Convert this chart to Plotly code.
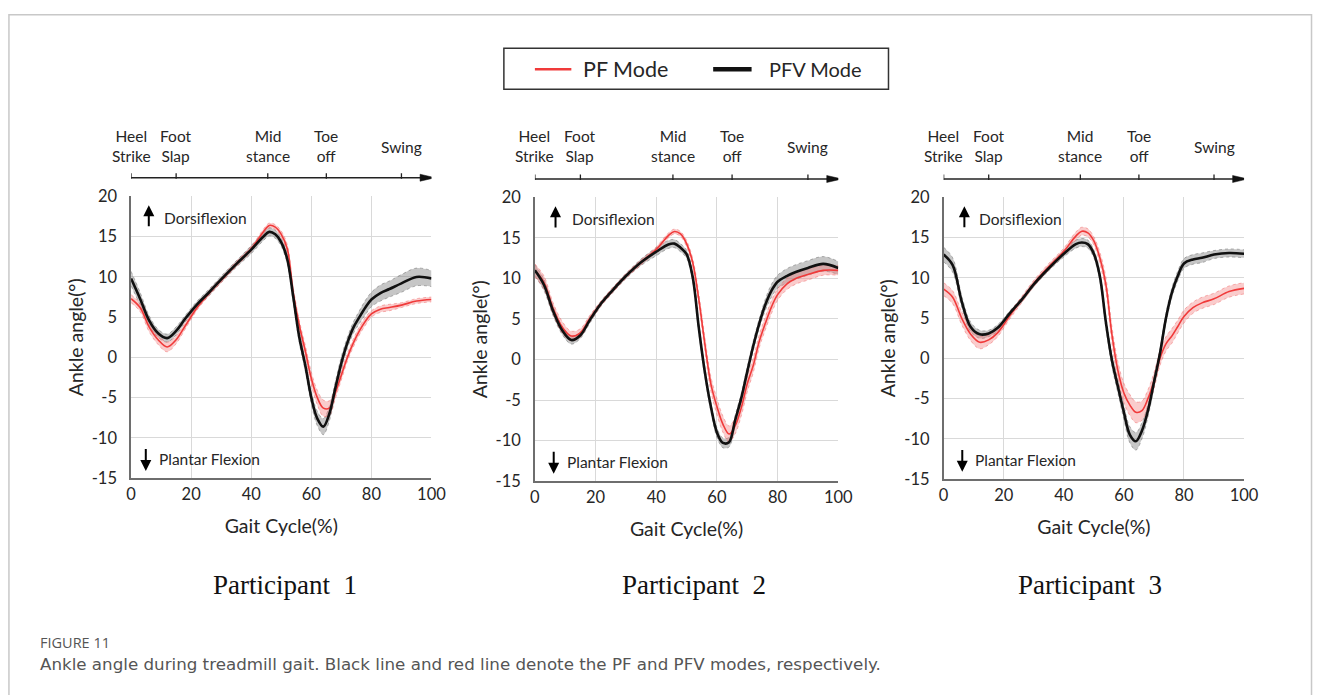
import plotly.graph_objects as go

# ---------------- data ----------------
gait = [0, 3, 6, 9, 12, 15, 18, 22, 26, 30, 35, 40, 44, 46, 48, 50, 52, 54, 56, 58,
        60, 62, 64, 66, 68, 70, 72, 74, 76, 78, 80, 83, 86, 90, 95, 100]

phase_pos = [0, 15, 45.5, 65, 90]
phase_labels = ["Heel<br>Strike", "Foot<br>Slap", "Mid<br>stance", "Toe<br>off", "Swing"]
x_ticks = [0, 20, 40, 60, 80, 100]
y_ticks = [-15, -10, -5, 0, 5, 10, 15, 20]
y_tick_text = ["-15", "-10", "-5", "0", "5", "10", "15", "20"]
participants = ["Participant  1", "Participant  2", "Participant  3"]
mode_names = ["PF Mode", "PFV Mode"]

# Participant 1
p1_pf = [7.3, 6.2, 3.8, 2.2, 1.3, 2.2, 3.9, 6.2, 8.0, 9.6, 11.6, 13.5, 15.6, 16.4, 16.2, 15.3,
         13.5, 8.0, 4.0, 0.8, -2.6, -5.0, -6.3, -6.3, -4.4, -2.2, 0.0, 1.8, 3.3, 4.5, 5.4,
         6.0, 6.2, 6.5, 7.0, 7.2]
p1_pf_sd = [0.5, 0.5, 0.6, 0.6, 0.6, 0.5, 0.4, 0.3, 0.3, 0.3, 0.3, 0.3, 0.3, 0.3, 0.3, 0.4,
            0.5, 0.6, 0.6, 0.7, 0.8, 0.9, 1.0, 0.9, 0.7, 0.6, 0.5, 0.5, 0.5, 0.5, 0.4, 0.4,
            0.4, 0.3, 0.3, 0.3]
p1_pfv = [9.8, 7.3, 4.6, 3.0, 2.4, 3.3, 4.8, 6.6, 8.1, 9.7, 11.6, 13.4, 15.0, 15.6, 15.3, 14.3,
          12.2, 7.5, 2.5, -1.0, -5.0, -7.6, -8.6, -7.0, -3.8, -0.7, 1.8, 3.7, 5.0, 6.2, 7.2,
          8.0, 8.5, 9.2, 10.0, 9.8]
p1_pfv_sd = [0.9, 0.8, 0.6, 0.5, 0.5, 0.5, 0.4, 0.4, 0.4, 0.4, 0.4, 0.5, 0.5, 0.5, 0.5, 0.5,
             0.6, 0.7, 0.7, 0.7, 0.8, 0.9, 1.0, 0.9, 0.8, 0.8, 0.7, 0.7, 0.8, 0.9, 0.9, 1.0,
             1.0, 1.1, 1.1, 1.0]

# Participant 2
p2_pf = [11.0, 9.5, 6.3, 4.0, 2.9, 3.3, 5.0, 7.0, 8.7, 10.3, 12.0, 13.6, 15.3, 15.8, 15.5, 14.3,
         12.0, 7.5, 2.0, -3.0, -5.8, -8.0, -9.2, -8.2, -6.0, -3.0, -0.7, 2.3, 4.5, 6.5, 8.0,
         9.3, 10.0, 10.5, 11.0, 11.0]
p2_pf_sd = [0.8, 0.8, 0.7, 0.7, 0.6, 0.5, 0.4, 0.3, 0.3, 0.3, 0.3, 0.3, 0.3, 0.3, 0.3, 0.4,
            0.5, 0.7, 0.8, 0.9, 1.0, 1.0, 1.0, 1.0, 1.0, 1.0, 0.9, 0.8, 0.8, 0.8, 0.7, 0.7,
            0.7, 0.7, 0.6, 0.6]
p2_pfv = [11.0, 9.2, 6.0, 3.6, 2.4, 3.0, 4.8, 7.0, 8.7, 10.3, 12.0, 13.3, 14.2, 14.3, 13.8, 13.0,
          10.2, 4.0, -1.5, -5.8, -9.0, -10.3, -10.2, -7.5, -4.8, -1.5, 1.7, 4.5, 6.8, 8.5, 9.6,
          10.3, 10.8, 11.3, 11.8, 11.3]
p2_pfv_sd = [0.7, 0.7, 0.6, 0.5, 0.5, 0.4, 0.4, 0.3, 0.3, 0.3, 0.4, 0.5, 0.5, 0.5, 0.5, 0.5,
             0.6, 0.6, 0.6, 0.6, 0.6, 0.6, 0.6, 0.6, 0.6, 0.6, 0.6, 0.6, 0.7, 0.8, 0.8, 0.9,
             0.9, 0.9, 0.9, 0.8]

# Participant 3
p3_pf = [8.6, 7.6, 5.0, 3.0, 2.0, 2.3, 3.2, 5.3, 7.3, 9.3, 11.4, 13.3, 15.2, 15.8, 15.6, 14.6,
         12.5, 9.2, 3.0, -1.5, -4.3, -5.8, -6.7, -6.5, -5.0, -2.8, 0.0, 1.8, 2.8, 4.0, 5.2,
         6.3, 6.9, 7.4, 8.3, 8.7]
p3_pf_sd = [0.8, 0.8, 0.8, 0.8, 0.8, 0.6, 0.5, 0.4, 0.4, 0.4, 0.4, 0.4, 0.5, 0.5, 0.5, 0.5,
            0.7, 0.9, 1.0, 1.1, 1.2, 1.3, 1.3, 1.2, 1.1, 1.0, 0.9, 0.9, 0.9, 0.8, 0.8, 0.7,
            0.7, 0.7, 0.7, 0.7]
p3_pfv = [12.9, 11.6, 7.1, 3.9, 3.0, 3.1, 3.8, 5.6, 7.3, 9.2, 11.2, 13.0, 14.2, 14.4, 14.2, 13.0,
          10.2, 4.5, -0.2, -3.5, -6.7, -9.5, -10.3, -9.0, -6.5, -3.0, 0.6, 5.0, 8.2, 10.3, 11.8,
          12.3, 12.5, 12.9, 13.1, 13.0]
p3_pfv_sd = [0.9, 0.9, 0.7, 0.6, 0.5, 0.4, 0.4, 0.3, 0.3, 0.3, 0.3, 0.4, 0.5, 0.5, 0.5, 0.5,
             0.6, 0.7, 0.8, 0.8, 0.9, 1.0, 1.1, 1.0, 0.8, 0.7, 0.6, 0.6, 0.6, 0.6, 0.6, 0.6,
             0.6, 0.5, 0.5, 0.5]

series = [
    (p1_pf, p1_pf_sd, p1_pfv, p1_pfv_sd),
    (p2_pf, p2_pf_sd, p2_pfv, p2_pfv_sd),
    (p3_pf, p3_pf_sd, p3_pfv, p3_pfv_sd),
]

# ---------------- layout geometry (pixels) ----------------
W, H = 1328, 695
FONT = "Lato"
TXT = "#262626"
panels = [
    dict(x0=128, x1=433, y0=192, y1=482, phase_y=172.7, cx=284,
         up_x=5.9, dors_x=10.2, down_x=4.9, plan_x=8.6),
    dict(x0=538, x1=846, y0=193, y1=485, phase_y=174.0, cx=700,
         up_x=6.8, dors_x=11.5, down_x=6.2, plan_x=9.9),
    dict(x0=953, x1=1258, y0=193, y1=483, phase_y=174.0, cx=1102,
         up_x=6.9, dors_x=11.1, down_x=6.2, plan_x=9.7),
]


def fx(p):
    return p / W


def fy(p):
    return 1 - p / H


RED = "#f03a3a"
RED_BAND = "rgba(242,120,120,0.38)"
RED_EDGE = "rgba(240,90,90,0.55)"
BLK = "#111111"
GRY_BAND = "rgba(120,120,120,0.42)"
GRY_EDGE = "rgba(90,90,90,0.55)"

fig = go.Figure()
shapes = []
annotations = []

for i, (pf, pf_sd, pfv, pfv_sd) in enumerate(series):
    n = "" if i == 0 else str(i + 1)
    xa, ya = "x" + n, "y" + n

    def band(mean, sd, fill, edge, name):
        lo = [m - s for m, s in zip(mean, sd)]
        hi = [m + s for m, s in zip(mean, sd)]
        fig.add_trace(go.Scatter(x=gait, y=lo, mode="lines", xaxis=xa, yaxis=ya,
                                 line=dict(color=edge, width=0.8, dash="dot", shape="spline"),
                                 showlegend=False, hoverinfo="skip", name=name + " -SD"))
        fig.add_trace(go.Scatter(x=gait, y=hi, mode="lines", xaxis=xa, yaxis=ya, fill="tonexty",
                                 fillcolor=fill,
                                 line=dict(color=edge, width=0.8, dash="dot", shape="spline"),
                                 showlegend=False, hoverinfo="skip", name=name + " +SD"))

    band(pfv, pfv_sd, GRY_BAND, GRY_EDGE, mode_names[1])
    band(pf, pf_sd, RED_BAND, RED_EDGE, mode_names[0])
    fig.add_trace(go.Scatter(x=gait, y=pf, mode="lines", xaxis=xa, yaxis=ya, name=mode_names[0],
                             line=dict(color=RED, width=1.6, shape="spline"), showlegend=False))
    fig.add_trace(go.Scatter(x=gait, y=pfv, mode="lines", xaxis=xa, yaxis=ya, name=mode_names[1],
                             line=dict(color=BLK, width=2.6, shape="spline"), showlegend=False))

    P = panels[i]
    axis_common = dict(showgrid=True, gridcolor="#d9d9d9", gridwidth=1, zeroline=False,
                       showline=True, linecolor="#6e6e6e", linewidth=1.5, ticks="",
                       tickfont=dict(family=FONT, size=16.5, color=TXT))
    fig.update_layout(**{
        "xaxis" + n: dict(axis_common, domain=[fx(P["x0"]), fx(P["x1"])], range=[0, 100],
                          tickvals=x_ticks, anchor=ya, ticklabelstandoff=0,
                          title=dict(text="Gait Cycle(%)", standoff=17,
                                     font=dict(family=FONT, size=19.5, color=TXT))),
        "yaxis" + n: dict(axis_common, domain=[fy(P["y1"]), fy(P["y0"])], range=[-15, 20],
                          tickvals=y_ticks, ticktext=y_tick_text, anchor=xa,
                          ticklabelstandoff=9,
                          title=dict(text="Ankle angle(°)", standoff=3,
                                     font=dict(family=FONT, size=19.5, color=TXT))),
    })

    # gait-phase axis above each panel
    py = fy(P["phase_y"])
    shapes.append(dict(type="line", xref=xa, yref="paper", x0=phase_pos[0], x1=97.5,
                       y0=py, y1=py, line=dict(color="#222", width=1.5)))
    ah = 3.6 / H
    shapes.append(dict(type="path", xref=xa, yref="paper",
                       path=f"M 96.2,{py + ah} L 101.2,{py} L 96.2,{py - ah} Z",
                       fillcolor="#111", line=dict(color="#111", width=0.5)))
    for p in phase_pos:
        shapes.append(dict(type="line", xref=xa, yref="paper", x0=p, x1=p,
                           y0=py - 1 / H, y1=py + 4.5 / H, line=dict(color="#222", width=1.3)))
    for p, lab in zip(phase_pos, phase_labels):
        cy = 141 if "<br>" not in lab else 140.5
        annotations.append(dict(x=p, y=fy(cy), xref=xa, yref="paper", text=lab,
                                showarrow=False, xanchor="center", yanchor="middle",
                                font=dict(family=FONT, size=15.5, color=TXT)))

    # direction arrows
    annotations.append(dict(x=P["up_x"], y=18.9, xref=xa, yref=ya, ax=P["up_x"], ay=16.1,
                            axref=xa, ayref=ya, text="", showarrow=True, arrowhead=2,
                            arrowsize=1.1, arrowwidth=2, arrowcolor="#000"))
    annotations.append(dict(x=P["dors_x"], y=17.3, xref=xa, yref=ya, text="Dorsiflexion",
                            showarrow=False, xanchor="left", yanchor="middle",
                            font=dict(family=FONT, size=15.5, color=TXT)))
    annotations.append(dict(x=P["down_x"], y=-14.1, xref=xa, yref=ya, ax=P["down_x"], ay=-11.2,
                            axref=xa, ayref=ya, text="", showarrow=True, arrowhead=2,
                            arrowsize=1.1, arrowwidth=2, arrowcolor="#000"))
    annotations.append(dict(x=P["plan_x"], y=-12.6, xref=xa, yref=ya, text="Plantar Flexion",
                            showarrow=False, xanchor="left", yanchor="middle",
                            font=dict(family=FONT, size=15.5, color=TXT)))

    # participant label
    annotations.append(dict(x=fx(P["cx"]), y=fy(592), xref="paper", yref="paper",
                            text=participants[i], showarrow=False, xanchor="center",
                            yanchor="middle",
                            font=dict(family="Liberation Serif", size=27, color="#111")))

# legend box (drawn)
shapes.append(dict(type="rect", xref="paper", yref="paper", x0=fx(506.5), x1=fx(897),
                   y0=fy(81.7), y1=fy(39.5), line=dict(color="#333", width=1.5)))
shapes.append(dict(type="line", xref="paper", yref="paper", x0=fx(538), x1=fx(575),
                   y0=fy(61), y1=fy(61), line=dict(color=RED, width=2.5)))
shapes.append(dict(type="line", xref="paper", yref="paper", x0=fx(719), x1=fx(758),
                   y0=fy(61), y1=fy(61), line=dict(color=BLK, width=4.5)))
annotations.append(dict(x=fx(585), y=fy(61), xref="paper", yref="paper", text=mode_names[0],
                        showarrow=False, xanchor="left", yanchor="middle",
                        font=dict(family=FONT, size=21.5, color=TXT)))
annotations.append(dict(x=fx(774), y=fy(61), xref="paper", yref="paper", text=mode_names[1],
                        showarrow=False, xanchor="left", yanchor="middle",
                        font=dict(family=FONT, size=20, color=TXT)))

# figure frame and caption
shapes.append(dict(type="path", xref="paper", yref="paper",
                   path=f"M {fx(4)},-0.02 L {fx(4)},{fy(5)} L {fx(1326.5)},{fy(5)} L {fx(1326.5)},-0.02",
                   line=dict(color="#c8c8c8", width=1.5)))
annotations.append(dict(x=fx(33), y=fy(663), xref="paper", yref="paper", text="FIGURE 11",
                        showarrow=False, xanchor="left", yanchor="bottom",
                        font=dict(family="Open Sans", size=14.5, color="#555")))
annotations.append(dict(x=fx(33), y=fy(661), xref="paper", yref="paper",
                        text="Ankle angle during treadmill gait. Black line and red line denote the "
                             "PF and PFV modes, respectively.",
                        showarrow=False, xanchor="left", yanchor="top",
                        font=dict(family="DejaVu Sans", size=16.7, color="#555")))

fig.update_layout(width=W, height=H, margin=dict(l=0, r=0, t=0, b=0),
                  paper_bgcolor="white", plot_bgcolor="white", showlegend=False,
                  shapes=shapes, annotations=annotations,
                  font=dict(family=FONT, color=TXT))

fig.write_html("out.html", config={"displayModeBar": False},
               post_script="document.body.style.margin='0px';")
